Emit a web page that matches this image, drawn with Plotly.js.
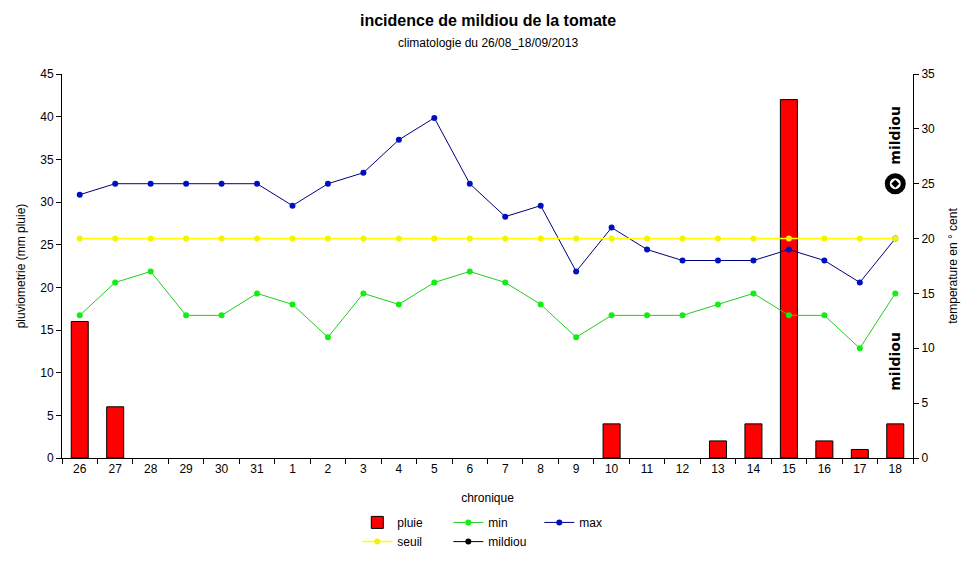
<!DOCTYPE html>
<html>
<head>
<meta charset="utf-8">
<script src="https://cdn.plot.ly/plotly-3.0.1.min.js"></script>
<style>html,body{margin:0;padding:0;background:#fff;}#chart{width:975px;height:563px;}</style>
</head>
<body>
<div id="chart"></div>
<script>
var categories = ["26","27","28","29","30","31","1","2","3","4","5","6","7","8","9","10","11","12","13","14","15","16","17","18"];
var pluie = [16,6,0,0,0,0,0,0,0,0,0,0,0,0,0,4,0,0,2,4,42,2,1,4];
var tmin = [13,16,17,13,13,15,14,11,15,14,16,17,16,14,11,13,13,13,14,15,13,13,10,15];
var tmax = [24,25,25,25,25,25,23,25,26,29,31,25,22,23,17,21,19,18,18,18,19,18,16,20];
var seuil = [20,20,20,20,20,20,20,20,20,20,20,20,20,20,20,20,20,20,20,20,20,20,20,20];
var mildiouCat = ["18"];
var mildiouVal = [25];

var font = "Liberation Sans, Arial, sans-serif";
var pluieShown = pluie.map(function(v){ return v === 0 ? null : v; });

var traces = [
  {type:"bar", name:"pluie", x:categories, y:pluieShown, yaxis:"y", width:0.48,
   marker:{color:"#ff0000", line:{color:"#000000", width:1}}, legend:"legend"},
  {type:"scatter", mode:"lines+markers", name:"min", x:categories, y:tmin, yaxis:"y2",
   line:{color:"#22cc22", width:1}, marker:{color:"#11ee11", size:6}, legend:"legend"},
  {type:"scatter", mode:"lines+markers", name:"max", x:categories, y:tmax, yaxis:"y2",
   line:{color:"#000080", width:1}, marker:{color:"#0010c0", size:6}, legend:"legend"},
  {type:"scatter", mode:"lines+markers", name:"seuil", x:categories, y:seuil, yaxis:"y2",
   line:{color:"#ffff00", width:1.5}, marker:{color:"#f4f400", size:6}, legend:"legend2"},
  {type:"scatter", mode:"markers", name:"mildiou", x:mildiouCat, y:mildiouVal, yaxis:"y2",
   marker:{symbol:"circle-dot", color:"#ffffff", size:16, line:{color:"#000000", width:5}},
   showlegend:false},
  {type:"scatter", mode:"lines+markers", name:"mildiou", x:[null], y:[null], yaxis:"y2",
   line:{color:"#000000", width:1}, marker:{color:"#000000", size:6}, legend:"legend2"}
];

var layout = {
  width:975, height:563,
  paper_bgcolor:"#ffffff", plot_bgcolor:"#ffffff",
  font:{family:font, size:12, color:"#000"},
  margin:{l:62, r:62, t:74, b:105, autoexpand:false},
  bargap:0.5,
  xaxis:{type:"category", range:[-0.5,23.5], showline:true, linecolor:"#000", linewidth:1,
         ticks:"outside", tickson:"boundaries", ticklen:5, tickcolor:"#000", showgrid:false,
         zeroline:false, tickfont:{size:12}, automargin:false,
         title:{text:"chronique", font:{size:12}, standoff:18}},
  yaxis:{range:[0,45], dtick:5, showline:true, linecolor:"#000", ticks:"outside", ticklen:5,
         tickcolor:"#000", showgrid:false, zeroline:false, tickfont:{size:12}, automargin:false,
         title:{text:"pluviometrie (mm pluie)", font:{size:12}, standoff:12}},
  yaxis2:{range:[0,35], dtick:5, overlaying:"y", side:"right", showline:true, linecolor:"#000",
          ticks:"outside", ticklen:5, tickcolor:"#000", showgrid:false, zeroline:false,
          tickfont:{size:12}, automargin:false,
          title:{text:"temperature en ° cent", font:{size:12}, standoff:14}},
  legend:{orientation:"h", x:0.347, xanchor:"left", y:-0.13, yanchor:"top",
          font:{size:12}, entrywidth:46, itemwidth:30, bgcolor:"rgba(0,0,0,0)"},
  legend2:{orientation:"h", x:0.347, xanchor:"left", y:-0.18, yanchor:"top",
          font:{size:12}, entrywidth:46, itemwidth:30, bgcolor:"rgba(0,0,0,0)"},
  annotations:[
    {text:"<b>incidence de mildiou de la tomate</b>", x:0.5, xref:"paper", y:1, yref:"paper", yanchor:"middle",
     showarrow:false, font:{size:16, family:font}},
    {text:"climatologie du 26/08_18/09/2013", x:0.5, xref:"paper", y:1, yref:"paper", yanchor:"middle",
     showarrow:false, font:{size:12, family:font}},
    {text:"<b>mildiou</b>", x:23, xref:"x", y:29.4, yref:"y2", textangle:-90, showarrow:false,
     font:{size:14, family:"DejaVu Sans, sans-serif"}},
    {text:"<b>mildiou</b>", x:23, xref:"x", y:8.8, yref:"y2", textangle:-90, showarrow:false,
     font:{size:14, family:"DejaVu Sans, sans-serif"}}
  ]
};
// place title texts in pixels relative to plot area height (384px)
layout.annotations[0].y = 1 + (74 - 20) / 384;
layout.annotations[1].y = 1 + (74 - 43) / 384;

Plotly.newPlot("chart", traces, layout, {displayModeBar:false});
</script>
</body>
</html>
